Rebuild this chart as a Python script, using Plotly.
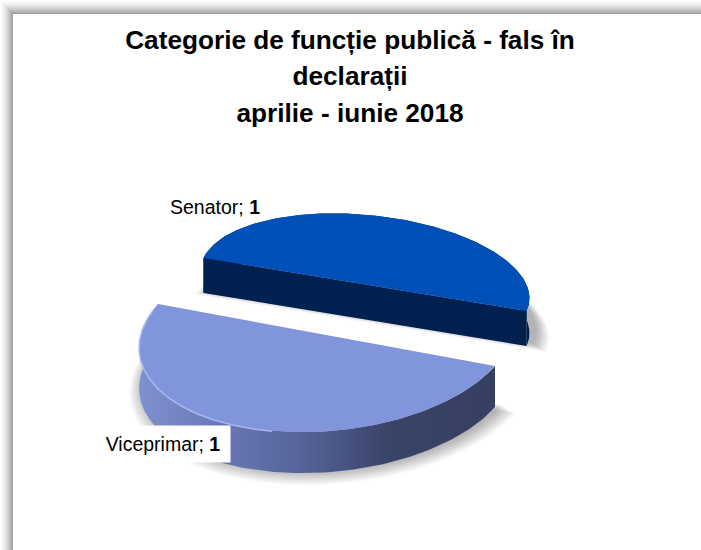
import numpy as np
import plotly.graph_objects as go

# ---- data ----
categories = ["Senator", "Viceprimar"]
values = [1, 1]
title_lines = ["Categorie de funcție publică - fals în", "declarații", "aprilie - iunie 2018"]

# ---- styling / geometry of the tilted disc (page pixels) ----
W, H = 701, 550
geom = {
    "Senator": dict(c=(365, 284.5), u=(161.5, 26.5), w=(31, -66), depth=35,
                    top="#0050B8", side=[[0, "#00215A"], [1, "#00204F"]]),
    "Viceprimar": dict(c=(326.5, 335), u=(168.5, 31), w=(82, -92), depth=41,
                       top="#8095DB",
                       side=[[0, "#7F90D0"], [0.25, "#6877B4"], [0.45, "#56649A"],
                             [0.7, "#3A4468"], [1, "#363F60"]]),
}


def arc(g, t0, t1, n=140, dy=0.0, scale=1.0, shift=(0, 0)):
    t = np.linspace(t0, t1, n)
    x = g["c"][0] + shift[0] + scale * (g["u"][0] * np.cos(t) + g["w"][0] * np.sin(t))
    y = g["c"][1] + shift[1] + dy + scale * (g["u"][1] * np.cos(t) + g["w"][1] * np.sin(t))
    return x, y


def closed(x, y):
    return np.r_[x, x[0]], np.r_[y, y[0]]


fig = go.Figure()
total = sum(values)
start = 0.0
spans = {}
for name, val in zip(categories, values):
    spans[name] = (start, start + 2 * np.pi * val / total)
    start = spans[name][1]

# soft shadows
N_SHADOW = 16
for name in categories:
    g = geom[name]
    t0, t1 = spans[name]
    for k in range(N_SHADOW):
        f = (N_SHADOW - k) / N_SHADOW
        s = 1.0 + 0.085 * f
        x, y = arc(g, t0, t1, dy=g["depth"] - 6, scale=s, shift=(6, 3 + 7 * f))
        x, y = closed(x, y)
        fig.add_trace(go.Scatter(x=x, y=y, mode="lines", fill="toself", line=dict(width=0),
                                 fillcolor="rgba(0,0,0,0.018)", hoverinfo="skip", showlegend=False))

# side walls and top faces
for name in categories:
    g = geom[name]
    t0, t1 = spans[name]
    xa, ya = arc(g, t0, t1)
    xb, yb = arc(g, t0, t1, dy=g["depth"])
    x, y = closed(np.r_[xa, xb[::-1]], np.r_[ya, yb[::-1]])
    fig.add_trace(go.Scatter(x=x, y=y, mode="lines", fill="toself", line=dict(width=0),
                             fillgradient=dict(type="horizontal", colorscale=g["side"]),
                             hoverinfo="skip", showlegend=False))
    if name == "Senator":  # flat cut face faces the viewer
        xf = [xa[0], xa[-1], xb[-1], xb[0], xa[0]]
        yf = [ya[0], ya[-1], yb[-1], yb[0], ya[0]]
        fig.add_trace(go.Scatter(x=xf, y=yf, mode="lines", fill="toself", line=dict(width=0),
                                 fillcolor=g["side"][-1][1], hoverinfo="skip", showlegend=False))
    x, y = closed(xa, ya)
    fig.add_trace(go.Scatter(x=x, y=y, mode="lines", fill="toself", line=dict(width=0),
                             fillcolor=g["top"], hoverinfo="skip", showlegend=False))

# light rim on the near edge of the lower slice
g = geom["Viceprimar"]
t0, t1 = spans["Viceprimar"]
xr, yr = arc(g, t0 + 0.02 * (t1 - t0), t0 + 0.55 * (t1 - t0), dy=0.5)
fig.add_trace(go.Scatter(x=xr, y=yr, mode="lines", line=dict(color="#A6B6F2", width=1.6),
                         hoverinfo="skip", showlegend=False))

# page-edge shadow (top and left bands)
shapes = []
band_top, band_left = 14, 13
for i in range(band_top):
    level = 255 - int(95 * ((i + 1) / band_top) ** 1.6)
    col = f"rgb({level},{level},{level})"
    shapes.append(dict(type="rect", xref="x", yref="y", x0=min(i, band_left), x1=W, y0=i, y1=i + 1,
                       fillcolor=col, line_width=0, layer="below"))
for i in range(band_left):
    level = 255 - int(95 * ((i + 1) / band_left) ** 1.6)
    col = f"rgb({level},{level},{level})"
    shapes.append(dict(type="rect", xref="x", yref="y", x0=i, x1=i + 1, y0=min(i, band_top), y1=H,
                       fillcolor=col, line_width=0, layer="below"))

annots = [
    dict(x=168, y=207, xref="x", yref="y", xanchor="left", yanchor="middle", showarrow=False,
         text=f"{categories[0]}; <b>{values[0]}</b>", font=dict(size=19.5, color="#000000")),
    dict(x=95, y=443.5, xref="x", yref="y", xanchor="left", yanchor="middle", showarrow=False,
         text=f"{categories[1]}; <b>{values[1]}</b>", font=dict(size=19.5, color="#000000"),
         bgcolor="#FFFFFF", width=134, height=36, align="center", borderpad=0),
]

fig.update_layout(
    width=W, height=H, margin=dict(l=0, r=0, t=0, b=0),
    paper_bgcolor="#FFFFFF", plot_bgcolor="#FFFFFF", showlegend=False,
    font=dict(family="Liberation Sans, Arial, sans-serif"),
    xaxis=dict(range=[0, W], visible=False, fixedrange=True),
    yaxis=dict(range=[H, 0], visible=False, fixedrange=True),
    title=dict(text="<br>".join(f'<span style="font-size:26.2px">{s}</span>' for s in title_lines),
               x=350 / W, xanchor="center", y=1 - 49 / H, yanchor="top", yref="container",
               font=dict(size=28, color="#000000", family="Liberation Sans, Arial, sans-serif", weight="bold")),
    shapes=shapes, annotations=annots,
)

fig.write_html("out.html", post_script="document.body.style.margin='0';", config=dict(displayModeBar=False))
